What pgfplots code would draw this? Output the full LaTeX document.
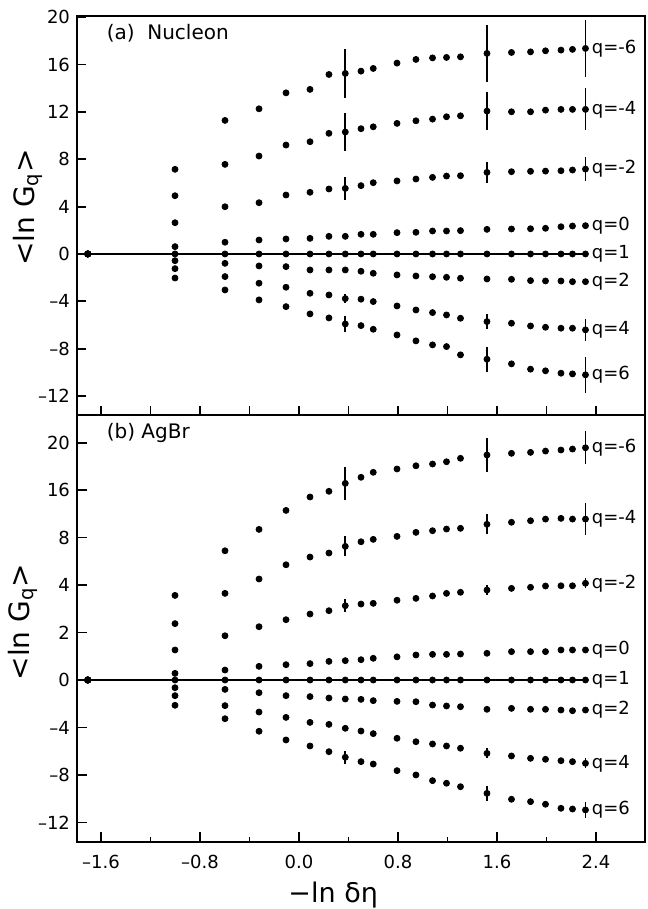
\documentclass[border=0pt]{standalone}
\usepackage{fontspec}
\setmainfont{DejaVu Sans}
\usepackage{pgfplots}
\pgfplotsset{compat=1.18}
\usepackage{pgfplotstable}

% x = -ln(delta eta); columns a..h: <ln G_q> for q = -6,-4,-2,0,1,2,4,6
% ea,eb,ec,ef,eg,eh: errors for q = -6,-4,-2,2,4,6
\pgfplotstableread{
x      a      b      c     d     e   f      g      h       ea   eb   ec   ef   eg   eh
-1.707 0      0      0     0     0   0      0      0       0    0    0    0    0    0
-1.002 7.15   4.92   2.64  0.62  0   -0.57  -1.24  -2.03   0    0    0    0    0    0
-0.598 11.28  7.57   3.99  0.99  0   -0.79  -1.91  -3.04   0    0    0    0    0    0
-0.323 12.26  8.27   4.33  1.18  0   -1.01  -2.47  -3.88   0    0    0    0    0    0
-0.105 13.61  9.20   4.98  1.27  0   -1.07  -2.81  -4.45   0    0    0    0    0    0
0.089  13.90  9.48   5.21  1.32  0   -1.35  -3.32  -5.06   0    0    0    0    0    0
0.242  15.16  10.19  5.49  1.49  0   -1.35  -3.46  -5.40   0    0    0    0    0    0
0.374  15.25  10.30  5.54  1.49  0   -1.35  -3.77  -5.91   2.1  1.6  1.0  0    0.4  0.7
0.501  15.44  10.58  5.77  1.66  0   -1.46  -3.82  -6.05   0    0    0    0    0    0
0.600  15.67  10.74  6.02  1.66  0   -1.63  -4.02  -6.36   0    0    0    0    0    0
0.792  16.12  11.03  6.17  1.80  0   -1.77  -4.39  -6.84   0    0    0    0    0    0
0.945  16.43  11.25  6.33  1.83  0   -1.86  -4.73  -7.34   0    0    0    0    0    0
1.079  16.56  11.39  6.47  1.94  0   -1.92  -4.95  -7.68   0    0    0    0    0    0
1.192  16.60  11.59  6.58  1.94  0   -1.97  -5.15  -7.82   0    0    0    0    0    0
1.305  16.65  11.67  6.61  1.97  0   -2.05  -5.43  -8.52   0    0    0    0    0    0
1.519  16.94  12.07  6.89  2.08  0   -2.11  -5.71  -8.89   2.4  1.6  0.9  0    0.63 1.05
1.717  17.02  12.01  6.95  2.11  0   -2.14  -5.85  -9.28   0    0    0    0    0    0
1.871  17.07  12.01  6.98  2.13  0   -2.25  -6.08  -9.73   0    0    0    0    0    0
1.992  17.16  12.15  7.00  2.17  0   -2.28  -6.19  -9.87   0    0    0    0    0    0
2.117  17.22  12.21  7.03  2.30  0   -2.28  -6.27  -10.07  0    0    0    0    0    0
2.210  17.28  12.21  7.09  2.36  0   -2.34  -6.27  -10.13  0    0    0    0    0    0
2.315  17.36  12.21  7.17  2.39  0   -2.34  -6.41  -10.21  2.4  1.77 1.0  0    0.9  1.5
}\nucleon

\pgfplotstableread{
x      a      b      c     d     e   f      g      h       ea   eb   ec   ef   eg   eh
-1.707 0      0      0     0     0   0      0      0       0    0    0    0    0    0
-1.002 7.13   4.75   2.53  0.56  0   -0.65  -1.32  -2.13   0    0    0    0    0    0
-0.598 10.89  7.30   3.73  0.84  0   -0.79  -2.16  -3.26   0    0    0    0    0    0
-0.323 12.69  8.51   4.49  1.15  0   -1.07  -2.70  -4.32   0    0    0    0    0    0
-0.105 14.29  9.71   5.08  1.29  0   -1.32  -3.15  -5.05   0    0    0    0    0    0
0.089  15.42  10.36  5.56  1.38  0   -1.40  -3.57  -5.56   0    0    0    0    0    0
0.242  15.90  10.70  5.84  1.57  0   -1.52  -3.74  -6.04   0    0    0    0    0    0
0.374  16.57  11.26  6.26  1.63  0   -1.60  -4.07  -6.51   1.39 0.84 0.53 0    0    0.53
0.501  17.08  11.65  6.40  1.71  0   -1.63  -4.30  -6.88   0    0    0    0    0    0
0.600  17.50  11.85  6.46  1.83  0   -1.74  -4.52  -7.08   0    0    0    0    0    0
0.792  17.78  12.10  6.72  1.95  0   -1.80  -4.91  -7.64   0    0    0    0    0    0
0.945  18.05  12.44  6.88  2.11  0   -1.83  -5.20  -8.00   0    0    0    0    0    0
1.079  18.20  12.58  7.08  2.16  0   -2.11  -5.39  -8.48   0    0    0    0    0    0
1.192  18.39  12.72  7.30  2.16  0   -2.19  -5.56  -8.70   0    0    0    0    0    0
1.305  18.68  12.78  7.39  2.19  0   -2.25  -5.75  -8.99   0    0    0    0    0    0
1.519  18.96  13.12  7.58  2.25  0   -2.47  -6.18  -9.55   1.45 0.84 0.42 0.25 0.42 0.63
1.717  19.10  13.29  7.72  2.39  0   -2.39  -6.40  -10.05  0    0    0    0    0    0
1.871  19.18  13.42  7.81  2.39  0   -2.47  -6.60  -10.25  0    0    0    0    0    0
1.992  19.29  13.56  7.92  2.39  0   -2.47  -6.68  -10.47  0    0    0    0    0    0
2.117  19.38  13.62  7.94  2.53  0   -2.53  -6.80  -10.81  0    0    0    0    0    0
2.210  19.46  13.56  7.94  2.53  0   -2.59  -6.88  -10.87  0    0    0    0    0    0
2.315  19.57  13.56  8.15  2.53  0   -2.53  -7.02  -10.95  1.38 1.36 0.42 0.25 0.42 0.67
}\agbr

\pgfplotsset{
  panel/.style={
    scale only axis, width=284pt,
    xmin=-1.794, xmax=2.796,
    axis line style={line width=1.1pt},
    tick style={black, line width=0.9pt},
    tick align=inside,
    xtick pos=bottom, ytick pos=left,
    major tick length=5pt, minor tick length=2.5pt,
    ytick={-12,-8,-4,0,4,8,12,16,20},
    clip=false,
    every tick label/.append style={font=\fontsize{9}{11}\selectfont},
  },
  pts/.style={only marks, mark=*, black, mark size=1.5pt,
    error bars/.cd, y dir=both, y explicit,
    error bar style={line width=0.85pt}, error mark=none},
}
\tikzset{
  qlab/.style={anchor=west, xshift=2.5pt, font=\fontsize{9}{11}\selectfont, inner sep=0.5pt},
  ylab/.style={rotate=90, font=\fontsize{14}{16}\selectfont},
}

\begin{document}
\begin{tikzpicture}
\path[use as bounding box] (0,0) rectangle (323.5pt,454.5pt);

% (a) Nucleon
\begin{axis}[panel, at={(38.5pt,247pt)}, anchor=south west, height=199.5pt,
  ymin=-13.6, ymax=20.1,
  yticklabels={–12,–8,–4,0,4,8,12,16,20},
  xtick={-1.6,-1.2,-0.8,-0.4,0,0.4,0.8,1.2,1.6,2.0,2.4},
  xticklabels={}, major tick length=4.5pt]
  \addplot[black, line width=1pt] coordinates {(-1.794,0) (2.315,0)};
  \addplot[pts] table[x=x, y=a, y error=ea] {\nucleon};
  \addplot[pts] table[x=x, y=b, y error=eb] {\nucleon};
  \addplot[pts] table[x=x, y=c, y error=ec] {\nucleon};
  \addplot[pts] table[x=x, y=d] {\nucleon};
  \addplot[pts] table[x=x, y=e] {\nucleon};
  \addplot[pts] table[x=x, y=f] {\nucleon};
  \addplot[pts] table[x=x, y=g, y error=eg] {\nucleon};
  \addplot[pts] table[x=x, y=h, y error=eh] {\nucleon};
  \node[qlab] at (axis cs:2.315,17.36) {q=-6};
  \node[qlab] at (axis cs:2.315,12.21) {q=-4};
  \node[qlab] at (axis cs:2.315,7.17) {q=-2};
  \node[qlab] at (axis cs:2.315,2.39) {q=0};
  \node[qlab] at (axis cs:2.315,0) {q=1};
  \node[qlab] at (axis cs:2.315,-2.34) {q=2};
  \node[qlab] at (axis cs:2.315,-6.41) {q=4};
  \node[qlab] at (axis cs:2.315,-10.21) {q=6};
  \node[anchor=west, font=\fontsize{10}{12}\selectfont] at (rel axis cs:0.04,0.957) {(a)\ \ Nucleon};
  \node[ylab] at (rel axis cs:-0.086,0.52) {<ln G\textsubscript{q}>};
\end{axis}

% (b) AgBr
\begin{axis}[panel, at={(38.5pt,33.5pt)}, anchor=south west, height=213.5pt,
  ymin=-13.65, ymax=22.33,
  yticklabels={–12,–8,–4,0,2,4,8,16,20},
  xtick={-1.6,-0.8,0,0.8,1.6,2.4},
  xticklabels={–1.6,–0.8,0.0,0.8,1.6,2.4},
  minor xtick={-1.2,-0.4,0.4,1.2,2.0},
  xticklabel style={yshift=-3pt}]
  \addplot[black, line width=1pt] coordinates {(-1.794,0) (2.315,0)};
  \addplot[pts] table[x=x, y=a, y error=ea] {\agbr};
  \addplot[pts] table[x=x, y=b, y error=eb] {\agbr};
  \addplot[pts] table[x=x, y=c, y error=ec] {\agbr};
  \addplot[pts] table[x=x, y=d] {\agbr};
  \addplot[pts] table[x=x, y=e] {\agbr};
  \addplot[pts] table[x=x, y=f, y error=ef] {\agbr};
  \addplot[pts] table[x=x, y=g, y error=eg] {\agbr};
  \addplot[pts] table[x=x, y=h, y error=eh] {\agbr};
  \node[qlab] at (axis cs:2.315,19.57) {q=-6};
  \node[qlab] at (axis cs:2.315,13.56) {q=-4};
  \node[qlab] at (axis cs:2.315,8.15) {q=-2};
  \node[qlab] at (axis cs:2.315,2.53) {q=0};
  \node[qlab] at (axis cs:2.315,0) {q=1};
  \node[qlab] at (axis cs:2.315,-2.53) {q=2};
  \node[qlab] at (axis cs:2.315,-7.02) {q=4};
  \node[qlab] at (axis cs:2.315,-10.95) {q=6};
  \node[anchor=west, font=\fontsize{10}{12}\selectfont] at (rel axis cs:0.04,0.9585) {(b)\ AgBr};
  \node[ylab] at (rel axis cs:-0.095,0.515) {<ln G\textsubscript{q}>};
  \node[font=\fontsize{13.5}{15}\selectfont] at (rel axis cs:0.451,-0.124) {−ln δη};
\end{axis}
\end{tikzpicture}
\end{document}
